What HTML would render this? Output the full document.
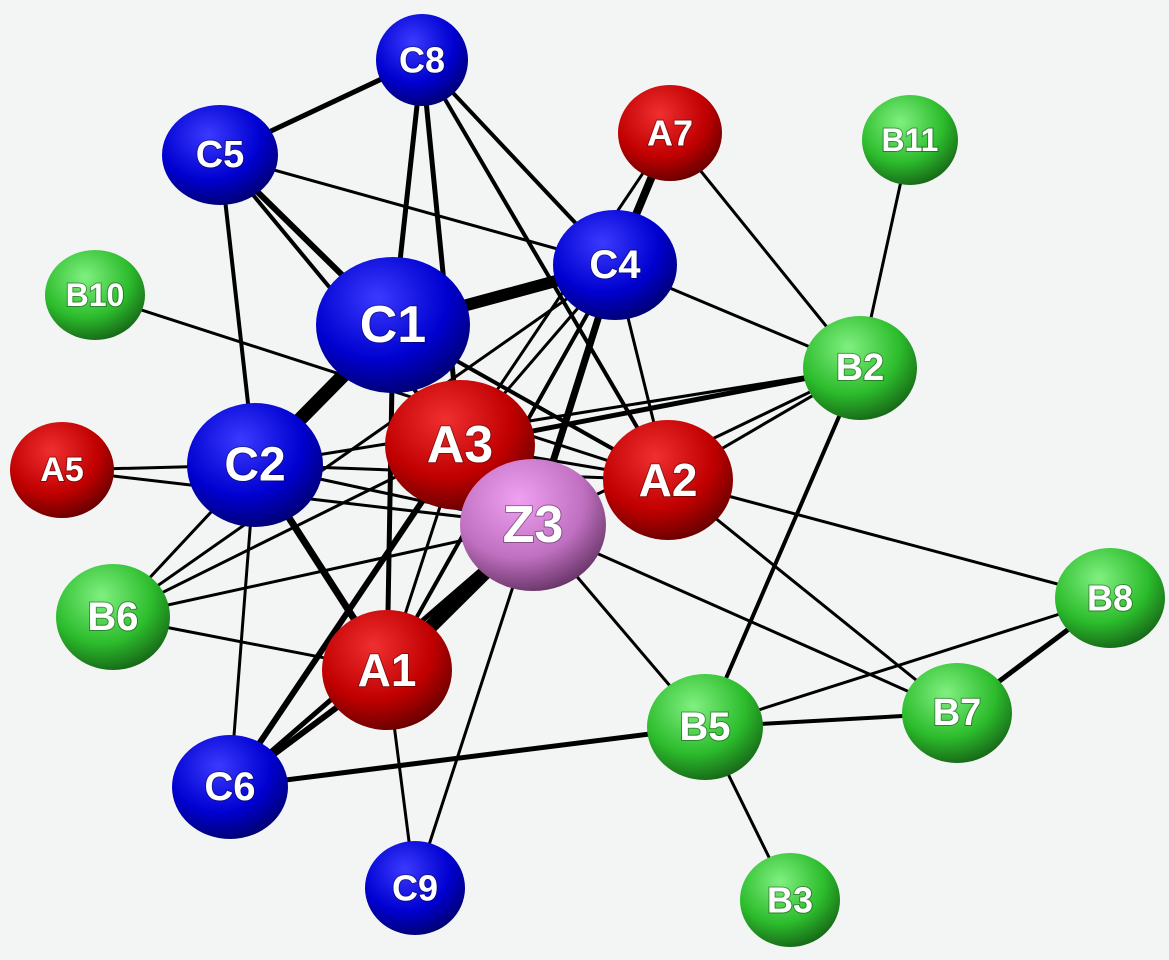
<!DOCTYPE html>
<html><head><meta charset="utf-8"><style>
html,body{margin:0;padding:0;background:#f3f5f4;}
svg{display:block}
text{font-family:"Liberation Sans",sans-serif;font-weight:bold;fill:#fff;text-anchor:middle;dominant-baseline:central;paint-order:stroke;stroke:rgba(0,0,0,0.35);stroke-width:2px}
</style></head><body>
<svg width="1169" height="960" viewBox="0 0 1169 960" xmlns="http://www.w3.org/2000/svg">
<defs>
<radialGradient id="gb" cx="0.4" cy="0.3" r="0.75"><stop offset="0" stop-color="#3a3aff"/><stop offset="0.6" stop-color="#0000d0"/><stop offset="1" stop-color="#00006a"/></radialGradient>
<radialGradient id="gr" cx="0.4" cy="0.3" r="0.75"><stop offset="0" stop-color="#f03030"/><stop offset="0.6" stop-color="#c00000"/><stop offset="1" stop-color="#600000"/></radialGradient>
<radialGradient id="gg" cx="0.4" cy="0.3" r="0.75"><stop offset="0" stop-color="#80f080"/><stop offset="0.6" stop-color="#2cbc2c"/><stop offset="1" stop-color="#156015"/></radialGradient>
<radialGradient id="gz" cx="0.4" cy="0.3" r="0.75"><stop offset="0" stop-color="#f0a0f0"/><stop offset="0.6" stop-color="#c070c0"/><stop offset="1" stop-color="#603060"/></radialGradient>
</defs>
<g stroke="#000" stroke-linecap="round">
<line x1="422" y1="60" x2="220" y2="155" stroke-width="5"/>
<line x1="422" y1="60" x2="393" y2="325" stroke-width="5"/>
<line x1="422" y1="60" x2="460" y2="445" stroke-width="5"/>
<line x1="422" y1="60" x2="615" y2="265" stroke-width="4"/>
<line x1="422" y1="60" x2="668" y2="480" stroke-width="4"/>
<line x1="220" y1="155" x2="393" y2="325" stroke-width="6"/>
<line x1="220" y1="155" x2="615" y2="265" stroke-width="3"/>
<line x1="220" y1="155" x2="255" y2="465" stroke-width="4"/>
<line x1="220" y1="155" x2="460" y2="445" stroke-width="4"/>
<line x1="670" y1="133" x2="615" y2="265" stroke-width="8"/>
<line x1="670" y1="133" x2="860" y2="368" stroke-width="3"/>
<line x1="670" y1="133" x2="460" y2="445" stroke-width="3"/>
<line x1="910" y1="140" x2="860" y2="368" stroke-width="3"/>
<line x1="615" y1="265" x2="393" y2="325" stroke-width="12"/>
<line x1="615" y1="265" x2="860" y2="368" stroke-width="3"/>
<line x1="615" y1="265" x2="668" y2="480" stroke-width="3"/>
<line x1="615" y1="265" x2="387" y2="670" stroke-width="4"/>
<line x1="615" y1="265" x2="533" y2="525" stroke-width="7"/>
<line x1="615" y1="265" x2="460" y2="445" stroke-width="3"/>
<line x1="615" y1="265" x2="113" y2="617" stroke-width="3"/>
<line x1="95" y1="295" x2="668" y2="480" stroke-width="3"/>
<line x1="393" y1="325" x2="255" y2="465" stroke-width="14"/>
<line x1="393" y1="325" x2="387" y2="670" stroke-width="5"/>
<line x1="393" y1="325" x2="668" y2="480" stroke-width="4"/>
<line x1="860" y1="368" x2="460" y2="445" stroke-width="5"/>
<line x1="860" y1="368" x2="668" y2="480" stroke-width="3"/>
<line x1="860" y1="368" x2="533" y2="525" stroke-width="3"/>
<line x1="860" y1="368" x2="705" y2="727" stroke-width="4"/>
<line x1="860" y1="368" x2="255" y2="465" stroke-width="3"/>
<line x1="62" y1="470" x2="255" y2="465" stroke-width="3"/>
<line x1="62" y1="470" x2="533" y2="525" stroke-width="3"/>
<line x1="255" y1="465" x2="533" y2="525" stroke-width="3"/>
<line x1="255" y1="465" x2="387" y2="670" stroke-width="7"/>
<line x1="255" y1="465" x2="230" y2="787" stroke-width="3"/>
<line x1="255" y1="465" x2="668" y2="480" stroke-width="3"/>
<line x1="255" y1="465" x2="113" y2="617" stroke-width="3"/>
<line x1="668" y1="480" x2="1110" y2="598" stroke-width="3"/>
<line x1="668" y1="480" x2="957" y2="713" stroke-width="3"/>
<line x1="668" y1="480" x2="460" y2="445" stroke-width="3"/>
<line x1="533" y1="525" x2="387" y2="670" stroke-width="14"/>
<line x1="533" y1="525" x2="230" y2="787" stroke-width="5"/>
<line x1="533" y1="525" x2="705" y2="727" stroke-width="3"/>
<line x1="533" y1="525" x2="415" y2="888" stroke-width="3"/>
<line x1="533" y1="525" x2="957" y2="713" stroke-width="3"/>
<line x1="533" y1="525" x2="113" y2="617" stroke-width="3"/>
<line x1="460" y1="445" x2="113" y2="617" stroke-width="3"/>
<line x1="460" y1="445" x2="387" y2="670" stroke-width="3"/>
<line x1="460" y1="445" x2="230" y2="787" stroke-width="6"/>
<line x1="113" y1="617" x2="387" y2="670" stroke-width="3"/>
<line x1="387" y1="670" x2="415" y2="888" stroke-width="3"/>
<line x1="387" y1="670" x2="230" y2="787" stroke-width="6"/>
<line x1="705" y1="727" x2="230" y2="787" stroke-width="5"/>
<line x1="705" y1="727" x2="957" y2="713" stroke-width="4"/>
<line x1="705" y1="727" x2="1110" y2="598" stroke-width="3"/>
<line x1="705" y1="727" x2="790" y2="900" stroke-width="3"/>
<line x1="1110" y1="598" x2="957" y2="713" stroke-width="5"/>
</g>
<g>
<ellipse cx="422" cy="60" rx="46" ry="46" fill="url(#gb)"/><text x="422" y="60" font-size="36">C8</text>
<ellipse cx="220" cy="155" rx="58" ry="50" fill="url(#gb)"/><text x="220" y="155" font-size="38">C5</text>
<ellipse cx="670" cy="133" rx="52" ry="48" fill="url(#gr)"/><text x="670" y="133" font-size="36">A7</text>
<ellipse cx="910" cy="140" rx="48" ry="45" fill="url(#gg)"/><text x="910" y="140" font-size="32">B11</text>
<ellipse cx="615" cy="265" rx="62" ry="55" fill="url(#gb)"/><text x="615" y="265" font-size="40">C4</text>
<ellipse cx="95" cy="295" rx="50" ry="45" fill="url(#gg)"/><text x="95" y="295" font-size="32">B10</text>
<ellipse cx="393" cy="325" rx="77" ry="68" fill="url(#gb)"/><text x="393" y="325" font-size="52">C1</text>
<ellipse cx="860" cy="368" rx="57" ry="52" fill="url(#gg)"/><text x="860" y="368" font-size="38">B2</text>
<ellipse cx="62" cy="470" rx="52" ry="48" fill="url(#gr)"/><text x="62" y="470" font-size="34">A5</text>
<ellipse cx="255" cy="465" rx="68" ry="62" fill="url(#gb)"/><text x="255" y="465" font-size="48">C2</text>
<ellipse cx="460" cy="445" rx="75" ry="65" fill="url(#gr)"/><text x="460" y="445" font-size="52">A3</text>
<ellipse cx="668" cy="480" rx="65" ry="60" fill="url(#gr)"/><text x="668" y="480" font-size="46">A2</text>
<ellipse cx="533" cy="525" rx="73" ry="66" fill="url(#gz)"/><text x="533" y="525" font-size="52">Z3</text>
<ellipse cx="1110" cy="598" rx="55" ry="50" fill="url(#gg)"/><text x="1110" y="598" font-size="36">B8</text>
<ellipse cx="113" cy="617" rx="57" ry="53" fill="url(#gg)"/><text x="113" y="617" font-size="40">B6</text>
<ellipse cx="387" cy="670" rx="65" ry="60" fill="url(#gr)"/><text x="387" y="670" font-size="46">A1</text>
<ellipse cx="705" cy="727" rx="58" ry="53" fill="url(#gg)"/><text x="705" y="727" font-size="40">B5</text>
<ellipse cx="957" cy="713" rx="55" ry="50" fill="url(#gg)"/><text x="957" y="713" font-size="38">B7</text>
<ellipse cx="230" cy="787" rx="58" ry="52" fill="url(#gb)"/><text x="230" y="787" font-size="40">C6</text>
<ellipse cx="415" cy="888" rx="50" ry="47" fill="url(#gb)"/><text x="415" y="888" font-size="36">C9</text>
<ellipse cx="790" cy="900" rx="50" ry="47" fill="url(#gg)"/><text x="790" y="900" font-size="36">B3</text>
</g>
</svg>
</body></html>
